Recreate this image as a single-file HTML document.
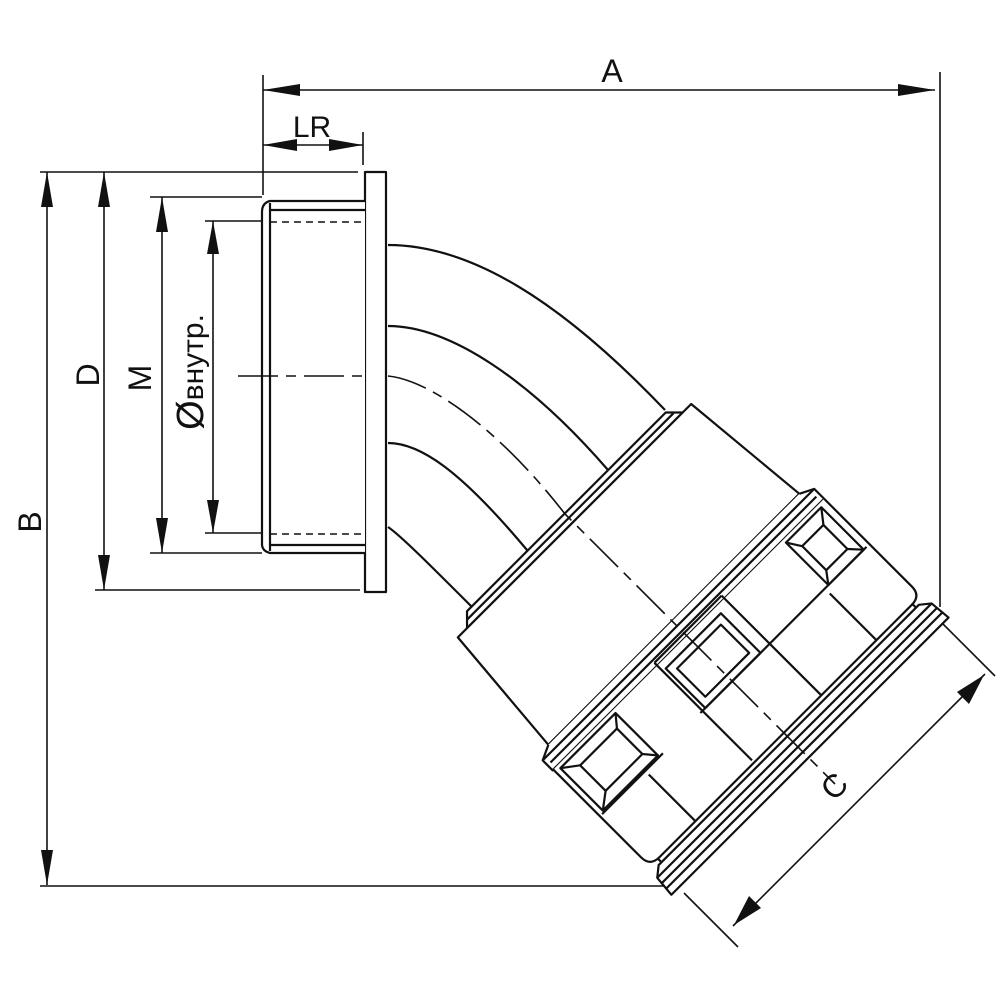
<!DOCTYPE html>
<html><head><meta charset="utf-8"><style>
html,body{margin:0;padding:0;background:#fff;}
svg{display:block;}
text{font-family:"Liberation Sans",sans-serif;fill:#111;}
</style></head><body>
<svg width="1000" height="1000" viewBox="0 0 1000 1000" xmlns="http://www.w3.org/2000/svg">
<rect width="1000" height="1000" fill="#fff"/>
<g stroke="#111" stroke-width="1.6" fill="none">
  <line x1="263" y1="75" x2="263" y2="195"/>
  <line x1="940" y1="72" x2="940" y2="607"/>
  <line x1="363" y1="132" x2="363" y2="165"/>
  <line x1="40" y1="172" x2="358" y2="172"/>
  <line x1="95" y1="590" x2="360" y2="590"/>
  <line x1="150" y1="197" x2="262" y2="197"/>
  <line x1="150" y1="553" x2="262" y2="553"/>
  <line x1="205" y1="221" x2="262" y2="221"/>
  <line x1="205" y1="533" x2="262" y2="533"/>
  <line x1="40" y1="886" x2="665" y2="886"/>
  <line x1="263" y1="90" x2="935" y2="90"/>
  <line x1="263" y1="145" x2="363" y2="145"/>
  <line x1="47" y1="172" x2="47" y2="885"/>
  <line x1="104" y1="172" x2="104" y2="590"/>
  <line x1="162" y1="197" x2="162" y2="553"/>
  <line x1="213" y1="221" x2="213" y2="533"/>
  <line x1="941" y1="622" x2="995" y2="676"/>
  <line x1="684" y1="893" x2="738" y2="947"/>
  <line x1="733" y1="926" x2="985" y2="674"/>
</g>
<g fill="#111">
  <polygon points="263,90 300,84 300,96"/>
  <polygon points="935,90 898,84 898,96"/>
  <polygon points="263,145 297,139 297,151"/>
  <polygon points="363,145 329,139 329,151"/>
  <polygon points="47,172 41,207 53,207"/>
  <polygon points="47,885 41,850 53,850"/>
  <polygon points="104,172 98,207 110,207"/>
  <polygon points="104,590 98,555 110,555"/>
  <polygon points="162,197 156,232 168,232"/>
  <polygon points="162,553 156,518 168,518"/>
  <polygon points="213,221 207,254 219,254"/>
  <polygon points="213,533 207,500 219,500"/>
  <polygon points="984,675 969,704 957,692"/>
  <polygon points="734,925 749,896 761,908"/>
</g>
<text x="612" y="82" font-size="32" text-anchor="middle">A</text>
<text x="312" y="137" font-size="30" text-anchor="middle">LR</text>
<text transform="translate(41,522) rotate(-90)" font-size="32" text-anchor="middle">B</text>
<text transform="translate(99,375) rotate(-90)" font-size="32" text-anchor="middle">D</text>
<text transform="translate(151,378) rotate(-90)" font-size="32" text-anchor="middle">M</text>
<text transform="translate(203,372) rotate(-90)" font-size="30" text-anchor="middle"><tspan font-size="38">Ø</tspan>внутр.</text>
<text transform="translate(842,794) rotate(-45)" font-size="32" text-anchor="middle">C</text>

<g stroke="#111" stroke-width="2.2" fill="none" stroke-linejoin="round">
  <rect x="365" y="172" width="21" height="420" fill="#fff"/>
  <path d="M365,201 L270,201 Q262,203 262,212 L262,544 Q262,551 270,553 L365,553" fill="#fff"/>
  <line x1="270" y1="203" x2="270" y2="551"/>
  <line x1="270" y1="210" x2="365" y2="210"/>
  <line x1="270" y1="545" x2="365" y2="545"/>
  <path d="M388,245 C470,245 560,300 665,410"/>
  <path d="M388,326 C450,326 530,380 608,470"/>
  <path d="M388,443 C420,443 460,470 527,550"/>
  <path d="M388,527 C400,535 430,565 471,606"/>
</g>
<g stroke="#111" stroke-width="1.6" fill="none">
  <line x1="270" y1="222" x2="365" y2="222" stroke-dasharray="7,5"/>
  <line x1="270" y1="534" x2="365" y2="534" stroke-dasharray="7,5"/>
</g>

<g transform="translate(653,602) rotate(45)" stroke="#111" stroke-width="2.2" fill="none" stroke-linejoin="round">
  <path d="M-125,-143 L-125,138 L-113,150 L-113,-155 Z" fill="#fff"/>
  <line x1="-119" y1="-148" x2="-119" y2="144"/>
  <path d="M-113,-167 L27,-180 L27,175 L-113,163 Z" fill="#fff"/>
  <path d="M27,-180 L34,-194 L48,-194 L48,190 L34,190 L27,175" fill="#fff"/>
  <line x1="34" y1="-194" x2="34" y2="190"/>
  <line x1="41" y1="-190" x2="41" y2="186"/>
  <path d="M48,-194 L172,-194 Q185,-194 185,-181 L185,176 Q185,189 172,189 L48,189" fill="#fff"/>
  <line x1="112" y1="-190" x2="112" y2="45"/>
  <line x1="114" y1="100" x2="114" y2="186"/>
  <line x1="119" y1="-131" x2="185" y2="-131"/>
  <line x1="119" y1="125" x2="185" y2="125"/>
  <line x1="44" y1="-53" x2="185" y2="-53"/>
  <line x1="44" y1="42" x2="182" y2="42"/>
  <line x1="44" y1="-53" x2="44" y2="42"/>
  <rect x="52" y="-186" width="60" height="50"/>
  <rect x="66" y="-175" width="34" height="30"/>
  <path d="M52,-186 L66,-175 M112,-186 L100,-175 M52,-136 L66,-145 M112,-136 L100,-145"/>
  <rect x="56" y="-40" width="56" height="78"/>
  <rect x="64" y="-32" width="40" height="62"/>
  <rect x="52" y="105" width="60" height="78"/>
  <rect x="64" y="115" width="36" height="52"/>
  <path d="M52,105 L64,115 M112,105 L100,115 M52,183 L64,167 M112,183 L100,167"/>
  <path d="M185,-182 L192,-182 M185,178 L192,178"/>
  <path d="M190,-186 L198,-196 L220,-198 L220,194 L198,192 L190,182 Z" fill="#fff"/>
  <line x1="198" y1="-196" x2="198" y2="192"/>
  <line x1="205" y1="-197" x2="205" y2="193"/>
  <line x1="212" y1="-197" x2="212" y2="193"/>
</g>
<path d="M238,376 L365,376 M388,376 C430,380 500,430 565,514 L835,784" stroke="#111" stroke-width="1.6" fill="none" stroke-dasharray="40,8,10,8"/>
</svg>
</body></html>
